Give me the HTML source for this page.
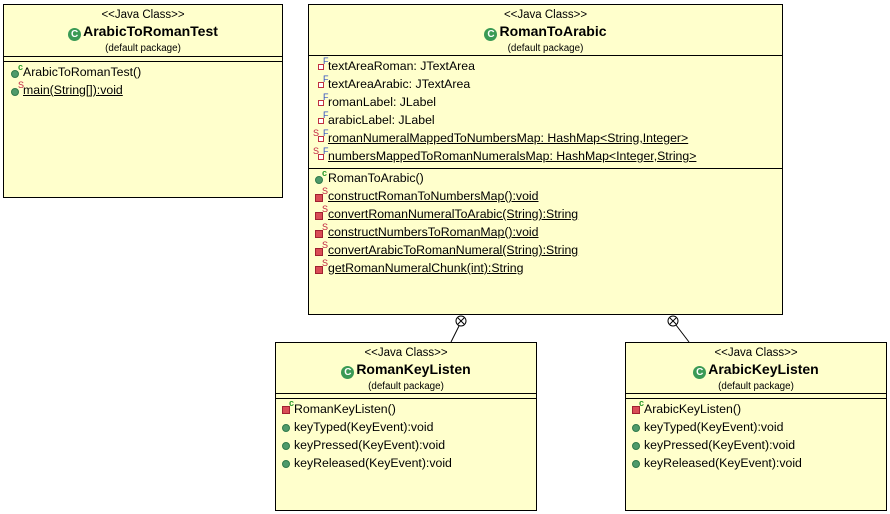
<!DOCTYPE html>
<html><head><meta charset="utf-8"><style>
body{margin:0;width:890px;height:514px;background:#fff;position:relative;overflow:hidden;font-family:"Liberation Sans",Arial,sans-serif;color:#000}
.box{position:absolute;background:#ffffcc;border:1px solid #000;box-sizing:border-box}
.hl{position:absolute;left:0;right:0;height:0;border-top:1px solid #000}
.t{position:absolute;white-space:nowrap;font-size:12.3px;line-height:14px}
.c{left:0;right:0;text-align:center}
.st{font-size:11.5px}
.nm{font-weight:bold;font-size:14px;line-height:16px}
.pk{font-size:9.8px}
.u{text-decoration:underline}
.cg{display:inline-block;width:13px;height:13px;border-radius:50%;background:#3a9a55;color:#fff;font-size:10px;line-height:13px;text-align:center;font-weight:bold;vertical-align:-1px;margin-right:2px}
.ic{position:absolute;font-size:8px;line-height:8px}
.gd{display:inline-block;width:8px;height:8px;border-radius:50%;background:#4f9a6a;border:1px solid #2f7a4a;box-sizing:border-box}
.rs{display:inline-block;width:8px;height:8px;background:#d94c55;border:1px solid #a02030;box-sizing:border-box}
.rf{display:inline-block;width:6px;height:6px;border:1px solid #c03040;box-sizing:border-box;background:#fff}
.sup{position:absolute;font-size:9px;line-height:9px}
</style></head><body>

<div class="box" style="left:3px;top:4px;width:280px;height:194px">
 <div class="t c st" style="top:3px">&lt;&lt;Java Class&gt;&gt;</div>
 <div class="t c nm" style="top:18px"><span class="cg">C</span>ArabicToRomanTest</div>
 <div class="t c pk" style="top:37px">(default package)</div>
 <div class="hl" style="top:51px"></div><div class="hl" style="top:56px"></div>
</div>
<div class="ic" style="left:11px;top:70px"><span class="gd"></span></div><div class="sup" style="left:18px;top:63px;color:#2a9a2a;font-weight:bold">c</div>
<div class="t" style="left:23px;top:65px">ArabicToRomanTest()</div>
<div class="ic" style="left:11px;top:88px"><span class="gd"></span></div><div class="sup" style="left:18px;top:81px;color:#c02040">S</div>
<div class="t u" style="left:23px;top:83px">main(String[]):void</div>

<div class="box" style="left:308px;top:4px;width:475px;height:311px">
 <div class="t c st" style="top:3px">&lt;&lt;Java Class&gt;&gt;</div>
 <div class="t c nm" style="top:18px"><span class="cg">C</span>RomanToArabic</div>
 <div class="t c pk" style="top:37px">(default package)</div>
 <div class="hl" style="top:50px"></div>
 <div class="hl" style="top:163px"></div>
</div>

<div class="box" style="left:275px;top:342px;width:262px;height:169px">
 <div class="t c st" style="top:3px">&lt;&lt;Java Class&gt;&gt;</div>
 <div class="t c nm" style="top:18px"><span class="cg">C</span>RomanKeyListen</div>
 <div class="t c pk" style="top:37px">(default package)</div>
 <div class="hl" style="top:50px"></div><div class="hl" style="top:55px"></div>
</div>
<div class="box" style="left:625px;top:342px;width:262px;height:169px">
 <div class="t c st" style="top:3px">&lt;&lt;Java Class&gt;&gt;</div>
 <div class="t c nm" style="top:18px"><span class="cg">C</span>ArabicKeyListen</div>
 <div class="t c pk" style="top:37px">(default package)</div>
 <div class="hl" style="top:50px"></div><div class="hl" style="top:55px"></div>
</div>

<div class="ic" style="left:318px;top:64px"><span class="rf"></span></div><div class="sup" style="left:323px;top:57px;color:#3050c0">F</div><div class="t" style="left:328px;top:59px">textAreaRoman: JTextArea</div>
<div class="ic" style="left:318px;top:82px"><span class="rf"></span></div><div class="sup" style="left:323px;top:75px;color:#3050c0">F</div><div class="t" style="left:328px;top:77px">textAreaArabic: JTextArea</div>
<div class="ic" style="left:318px;top:100px"><span class="rf"></span></div><div class="sup" style="left:323px;top:93px;color:#3050c0">F</div><div class="t" style="left:328px;top:95px">romanLabel: JLabel</div>
<div class="ic" style="left:318px;top:118px"><span class="rf"></span></div><div class="sup" style="left:323px;top:111px;color:#3050c0">F</div><div class="t" style="left:328px;top:113px">arabicLabel: JLabel</div>
<div class="sup" style="left:313px;top:129px;color:#c02040">S</div><div class="ic" style="left:318px;top:136px"><span class="rf"></span></div><div class="sup" style="left:323px;top:129px;color:#3050c0">F</div><div class="t u" style="left:328px;top:131px">romanNumeralMappedToNumbersMap: HashMap&lt;String,Integer&gt;</div>
<div class="sup" style="left:313px;top:147px;color:#c02040">S</div><div class="ic" style="left:318px;top:154px"><span class="rf"></span></div><div class="sup" style="left:323px;top:147px;color:#3050c0">F</div><div class="t u" style="left:328px;top:149px">numbersMappedToRomanNumeralsMap: HashMap&lt;Integer,String&gt;</div>

<div class="ic" style="left:315px;top:176px"><span class="gd"></span></div><div class="sup" style="left:322px;top:169px;color:#2a9a2a;font-weight:bold">c</div><div class="t" style="left:328px;top:171px">RomanToArabic()</div>
<div class="ic" style="left:315px;top:194px"><span class="rs"></span></div><div class="sup" style="left:322px;top:187px;color:#c02040">S</div><div class="t u" style="left:328px;top:189px">constructRomanToNumbersMap():void</div>
<div class="ic" style="left:315px;top:212px"><span class="rs"></span></div><div class="sup" style="left:322px;top:205px;color:#c02040">S</div><div class="t u" style="left:328px;top:207px">convertRomanNumeralToArabic(String):String</div>
<div class="ic" style="left:315px;top:230px"><span class="rs"></span></div><div class="sup" style="left:322px;top:223px;color:#c02040">S</div><div class="t u" style="left:328px;top:225px">constructNumbersToRomanMap():void</div>
<div class="ic" style="left:315px;top:248px"><span class="rs"></span></div><div class="sup" style="left:322px;top:241px;color:#c02040">S</div><div class="t u" style="left:328px;top:243px">convertArabicToRomanNumeral(String):String</div>
<div class="ic" style="left:315px;top:266px"><span class="rs"></span></div><div class="sup" style="left:322px;top:259px;color:#c02040">S</div><div class="t u" style="left:328px;top:261px">getRomanNumeralChunk(int):String</div>

<div class="ic" style="left:282px;top:406px"><span class="rs"></span></div><div class="sup" style="left:289px;top:399px;color:#2a9a2a;font-weight:bold">c</div><div class="t" style="left:294px;top:402px">RomanKeyListen()</div>
<div class="ic" style="left:282px;top:424px"><span class="gd"></span></div><div class="t" style="left:294px;top:420px">keyTyped(KeyEvent):void</div>
<div class="ic" style="left:282px;top:442px"><span class="gd"></span></div><div class="t" style="left:294px;top:438px">keyPressed(KeyEvent):void</div>
<div class="ic" style="left:282px;top:460px"><span class="gd"></span></div><div class="t" style="left:294px;top:456px">keyReleased(KeyEvent):void</div>

<div class="ic" style="left:632px;top:406px"><span class="rs"></span></div><div class="sup" style="left:639px;top:399px;color:#2a9a2a;font-weight:bold">c</div><div class="t" style="left:644px;top:402px">ArabicKeyListen()</div>
<div class="ic" style="left:632px;top:424px"><span class="gd"></span></div><div class="t" style="left:644px;top:420px">keyTyped(KeyEvent):void</div>
<div class="ic" style="left:632px;top:442px"><span class="gd"></span></div><div class="t" style="left:644px;top:438px">keyPressed(KeyEvent):void</div>
<div class="ic" style="left:632px;top:460px"><span class="gd"></span></div><div class="t" style="left:644px;top:456px">keyReleased(KeyEvent):void</div>

<svg width="890" height="514" style="position:absolute;left:0;top:0" fill="none" stroke="#000" stroke-width="1">
 <line x1="459" y1="326" x2="451" y2="342"/>
 <circle cx="461" cy="321" r="5" fill="#fff"/>
 <line x1="458" y1="318" x2="464" y2="324"/><line x1="464" y1="318" x2="458" y2="324"/>
 <line x1="676" y1="325" x2="689" y2="342"/>
 <circle cx="673" cy="321" r="5" fill="#fff"/>
 <line x1="670" y1="318" x2="676" y2="324"/><line x1="676" y1="318" x2="670" y2="324"/>
</svg>
</body></html>
